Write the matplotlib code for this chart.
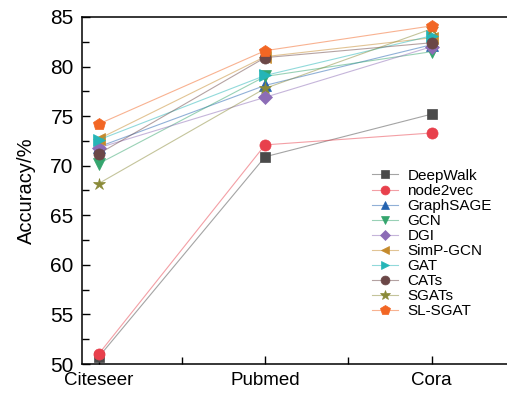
import matplotlib.pyplot as plt
from matplotlib.colors import to_rgba

plt.rcParams['font.family'] = ['Liberation Sans', 'DejaVu Sans']

datasets = ['Citeseer', 'Pubmed', 'Cora']
methods = ['DeepWalk', 'node2vec', 'GraphSAGE', 'GCN', 'DGI',
           'SimP-GCN', 'GAT', 'CATs', 'SGATs', 'SL-SGAT']

deepwalk = [50.7, 70.9, 75.2]
node2vec = [51.0, 72.1, 73.3]
graphsage = [71.9, 78.1, 82.2]
gcn = [70.2, 79.0, 81.5]
dgi = [71.8, 76.9, 82.0]
simp_gcn = [72.7, 81.0, 82.9]
gat = [72.6, 79.1, 83.1]
cats = [71.2, 80.9, 82.4]
sgats = [68.2, 77.8, 83.8]
sl_sgat = [74.2, 81.6, 84.1]

series = [deepwalk, node2vec, graphsage, gcn, dgi, simp_gcn, gat, cats, sgats, sl_sgat]
colors = ['#4a4a4a', '#e8404c', '#2463b0', '#35a56e', '#8c6cb6',
          '#c58a2c', '#25b5b7', '#6b4747', '#8a8a38', '#f26624']
markers = ['s', 'o', '^', 'v', 'D', '<', '>', 'o', '*', 'p']
sizes = [7, 8, 8, 8, 7, 8, 8, 8, 9, 9]

fig = plt.figure(figsize=(5.07, 3.94), dpi=100)
ax = fig.add_axes([0.1617, 0.0761, 0.87, 0.8808])

x = range(len(datasets))
for name, vals, c, m, s in zip(methods, series, colors, markers, sizes):
    ax.plot(x, vals, color=to_rgba(c, 0.5), lw=0.8, marker=m, ms=s,
            mfc=c, mec=c, mew=0.5, label=name)

ax.set_xlim(-0.1, 2.55)
ax.set_ylim(50, 85)
ax.set_xticks([0, 1, 2])
ax.set_xticklabels(datasets, fontsize=13.5)
ax.set_xticks([0.5, 1.5, 2.5], minor=True)
ax.set_yticks(range(50, 86, 5))
ax.set_yticks([52.5, 57.5, 62.5, 67.5, 72.5, 77.5, 82.5], minor=True)
ax.tick_params(axis='y', labelsize=15, pad=6)
ax.tick_params(which='both', direction='in', width=1.0)
ax.tick_params(which='major', length=6)
ax.tick_params(which='minor', length=5)
ax.tick_params(axis='x', pad=5.5)
ax.set_ylabel('Accuracy/%', fontsize=14.5, labelpad=10)
for sp in ax.spines.values():
    sp.set_linewidth(1.1)

ax.legend(loc='upper left', bbox_to_anchor=(0.719, 0.591), bbox_transform=fig.transFigure,
          frameon=False, fontsize=11, borderpad=0, labelspacing=0.07,
          handlelength=1.7, handletextpad=0.6, markerscale=0.8)

fig.savefig('out.png', dpi=100)
